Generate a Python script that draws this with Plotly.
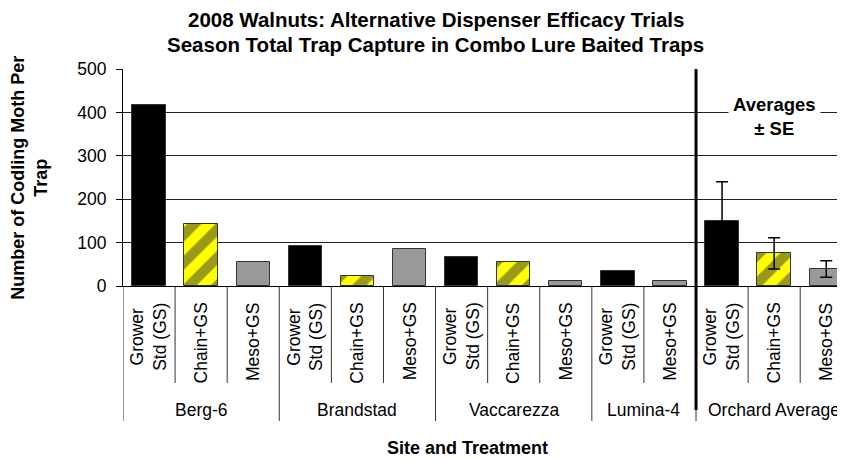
import plotly.graph_objects as go

# Dados
sites = ["Berg-6", "Brandstad", "Vaccarezza", "Lumina-4", "Orchard Average"]
tratamentos = [
    ["Grower<br>Std (GS)", "Chain+GS", "Meso+GS"],
    ["Grower<br>Std (GS)", "Chain+GS", "Meso+GS"],
    ["Grower<br>Std (GS)", "Chain+GS", "Meso+GS"],
    ["Grower<br>Std (GS)", "Meso+GS"],
    ["Grower<br>Std (GS)", "Chain+GS", "Meso+GS"],
]
capturas = [
    [418, 143, 56],
    [92, 23, 85],
    [66, 56, 11],
    [34, 11],
    [150, 75, 39],
]
erro_padrao = [90, 36, 19]  # só para as médias (último grupo)

cores = {"Grower<br>Std (GS)": "#000000", "Chain+GS": "#FFFF00", "Meso+GS": "#999999"}
padroes = {"Grower<br>Std (GS)": "", "Chain+GS": "/", "Meso+GS": ""}

FONTE = "Liberation Sans, Arial, sans-serif"

# posições das categorias
pos_x, rotulos, valores, grupo = [], [], [], []
i = 0
for g, (s, trat, vals) in enumerate(zip(sites, tratamentos, capturas)):
    for t, v in zip(trat, vals):
        pos_x.append(i)
        rotulos.append(t)
        valores.append(v)
        grupo.append(g)
        i += 1

ultimo = len(sites) - 1
fig = go.Figure()

# um traço por tratamento (sites) e outro para as médias com erro padrão
for t, cor in cores.items():
    for media in (False, True):
        ks = [k for k in range(len(pos_x))
              if rotulos[k] == t and (grupo[k] == ultimo) == media]
        if not ks:
            continue
        barra = go.Bar(
            x=[pos_x[k] for k in ks],
            y=[valores[k] for k in ks],
            width=0.64,
            marker=dict(color=cor, line=dict(color="#333333", width=1)),
            showlegend=False,
        )
        if padroes[t]:
            barra.marker.pattern = dict(shape=padroes[t], fgcolor="#333333",
                                        size=20, solidity=0.5,
                                        fillmode="overlay")
        if media:
            j = tratamentos[ultimo].index(t)
            barra.error_y = dict(type="data", array=[erro_padrao[j]],
                                 color="#000000", thickness=1.5, width=6)
        fig.add_trace(barra)

# linhas divisórias e rótulos do eixo x
shapes = []
annotations = []
inicio = 0
for s, trat in zip(sites, tratamentos):
    fim = inicio + len(trat)
    shapes.append(dict(type="line", xref="x", yref="paper",
                       x0=inicio - 0.5, x1=inicio - 0.5, y0=0, y1=-0.622,
                       line=dict(color="#333333", width=1)))
    for k in range(inicio + 1, fim):
        shapes.append(dict(type="line", xref="x", yref="paper",
                           x0=k - 0.5, x1=k - 0.5, y0=0, y1=-0.447,
                           line=dict(color="#333333", width=1)))
    annotations.append(dict(text=s, xref="x", yref="paper",
                            x=(inicio + fim - 1) / 2, y=-0.571,
                            showarrow=False, xanchor="center", yanchor="middle",
                            font=dict(size=17.5, color="#000000", family=FONTE)))
    inicio = fim

for x, t in zip(pos_x, rotulos):
    annotations.append(dict(text=t, xref="x", yref="paper", x=x, y=-0.068,
                            textangle=-90, showarrow=False, yanchor="top",
                            xanchor="center",
                            font=dict(size=17.5, color="#000000", family=FONTE)))

# linha grossa separando as médias
x_media = len(pos_x) - len(tratamentos[ultimo]) - 0.5
shapes.append(dict(type="line", xref="x", yref="paper",
                   x0=x_media, x1=x_media, y0=1, y1=-0.571,
                   line=dict(color="#000000", width=3)))

annotations.append(dict(text="<b>Averages<br>± SE</b>", xref="x", yref="y",
                        x=12, y=390, showarrow=False, bgcolor="#FFFFFF",
                        borderpad=4, xanchor="center", yanchor="middle",
                        font=dict(size=18.5, color="#000000", family=FONTE)))

annotations.append(dict(text="<b>Number of Codling Moth Per<br>Trap</b>",
                        xref="paper", yref="paper", x=-0.130, y=0.5,
                        textangle=-90, showarrow=False,
                        xanchor="center", yanchor="middle",
                        font=dict(size=18, color="#000000", family=FONTE)))

annotations.append(dict(text="<b>Site and Treatment</b>", xref="paper",
                        yref="paper", x=0.4765, y=-0.747, showarrow=False,
                        xanchor="center", yanchor="middle",
                        font=dict(size=18, color="#000000", family=FONTE)))

# título em duas linhas
annotations.append(dict(text="<b>2008 Walnuts: Alternative Dispenser Efficacy Trials</b>",
                        xref="paper", yref="paper", x=0.4335, y=1.2304,
                        showarrow=False, xanchor="center", yanchor="middle",
                        borderpad=0,
                        font=dict(size=20.5, color="#000000", family=FONTE)))
annotations.append(dict(text="<b>Season Total Trap Capture in Combo Lure Baited Traps</b>",
                        xref="paper", yref="paper", x=0.4335, y=1.1106,
                        showarrow=False, xanchor="center", yanchor="middle",
                        borderpad=0,
                        font=dict(size=20.5, color="#000000", family=FONTE)))

fig.update_layout(
    width=837, height=452,
    margin=dict(l=115, r=0, t=61, b=174),
    paper_bgcolor="#FFFFFF", plot_bgcolor="#FFFFFF",
    xaxis=dict(range=[-0.5, 13.36], showticklabels=False, showgrid=False,
               zeroline=False, showline=True, linecolor="#000000",
               linewidth=1, ticks=""),
    yaxis=dict(range=[0, 500], tickvals=[0, 100, 200, 300, 400, 500],
               showgrid=True, gridcolor="#222222", gridwidth=1,
               zeroline=False, showline=True, linecolor="#000000",
               linewidth=1, ticks="outside", ticklen=6, tickcolor="#000000",
               ticklabelstandoff=6,
               tickfont=dict(size=17.5, color="#000000", family=FONTE)),
    shapes=shapes,
    annotations=annotations,
    bargap=0,
)

fig.write_html("out.html")
